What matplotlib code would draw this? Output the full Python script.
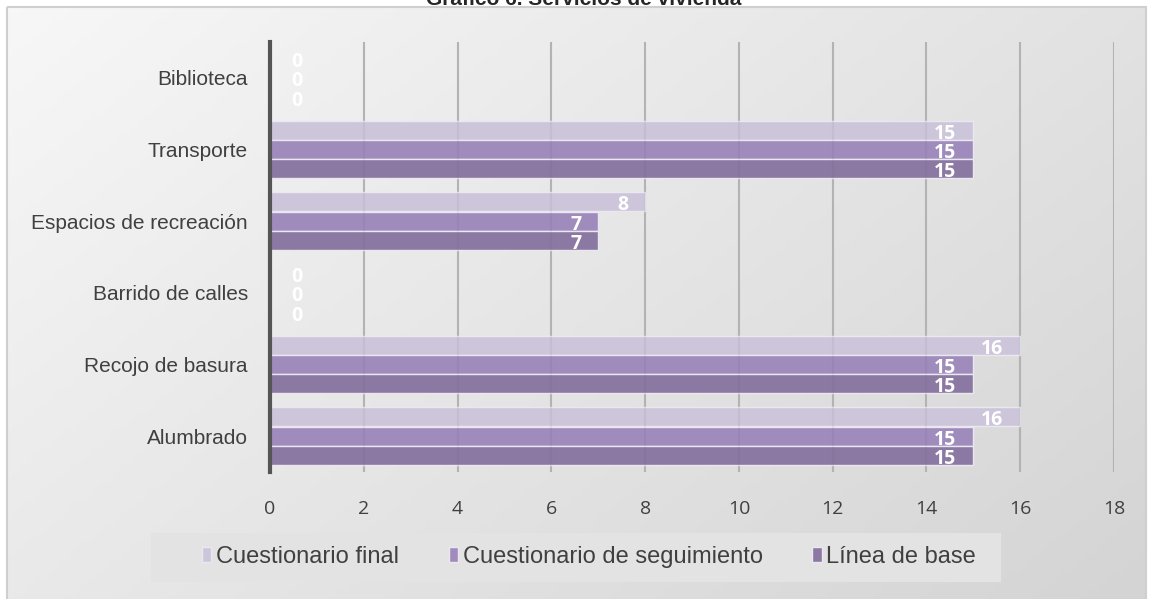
import numpy as np
import matplotlib
matplotlib.use('Agg')
import matplotlib.pyplot as plt
from matplotlib.patches import Rectangle, Patch

categorias = ['Alumbrado', 'Recojo de basura', 'Barrido de calles',
              'Espacios de recreación', 'Transporte', 'Biblioteca']
final = [16, 16, 0, 8, 15, 0]
seguimiento = [15, 15, 0, 7, 15, 0]
base = [15, 15, 0, 7, 15, 0]
series = ['Cuestionario final', 'Cuestionario de seguimiento', 'Línea de base']
colores = ['#cdc6da', '#a08bbd', '#8c79a3']

fig = plt.figure(figsize=(11.53, 5.99), dpi=100)

# panel background with a soft gradient
bg = fig.add_axes([0, 0, 1, 1], zorder=-10)
bg.set_xlim(0, 1153)
bg.set_ylim(599, 0)
bg.axis('off')
xx, yy = np.meshgrid(np.linspace(0, 1, 200), np.linspace(0, 1, 100))
grad = 0.6 * xx + 0.4 * yy
bg.imshow(grad, cmap=matplotlib.colors.LinearSegmentedColormap.from_list('g', ['#f7f7f7', '#d4d4d4']),
          extent=[7, 1146, 602, 7], aspect='auto', zorder=0)
bg.add_patch(Rectangle((7, 7), 1139, 600, fill=False, ec='#cfcfcf', lw=1.5, zorder=1))
bg.add_patch(Rectangle((151, 533), 850, 49, fc='#e3e3e3', ec='none', zorder=1))

# title is clipped by the top edge, as in the source image
fig.text(584 / 1153, 1 - 5 / 599, 'Gráfico 6. Servicios de vivienda', ha='center', va='baseline',
         fontsize=15, fontweight='bold', family='Liberation Sans', color='#262626')

ax = fig.add_axes([270 / 1153, 1 - 472 / 599, 844 / 1153, 430 / 599])
ax.patch.set_alpha(0)

y = np.arange(len(categorias))
h = 0.265
offs = [0.27, 0.0, -0.27]
for vals, off, c, name in zip([final, seguimiento, base], offs, colores, series):
    ax.barh(y + off, vals, height=h, color=c, edgecolor='#ebe7f0', linewidth=1, label=name, zorder=3)
    for yi, v in zip(y + off, vals):
        if v == 0:
            ax.annotate(str(v), (0, yi - 0.05), xytext=(21, 0), textcoords='offset pixels',
                        ha='left', va='center', color='white', fontsize=14, fontweight='bold',
                        family='Open Sans', zorder=4)
        else:
            ax.annotate(str(v), (v, yi - 0.05), xytext=(-17, 0), textcoords='offset pixels',
                        ha='right', va='center', color='white', fontsize=14, fontweight='bold',
                        family='Open Sans', zorder=4)

ax.set_xlim(0, 18)
ax.set_ylim(-0.5, 5.5)
ax.set_xticks(range(0, 19, 2))
ax.set_yticks(y)
ax.set_yticklabels(categorias, family='Liberation Sans', fontsize=15, color='#404040')
for t in ax.get_xticklabels():
    t.set_family('Open Sans')
    t.set_fontsize(14)
    t.set_color('#404040')
ax.tick_params(axis='x', length=0, pad=20)
ax.tick_params(axis='y', length=0, pad=16)
ax.grid(axis='x', color='#bcbcbc', lw=1.5, zorder=1)
# faint gridlines showing through the bars
ax.vlines(range(2, 19, 2), -0.5, 5.5, color='#555555', lw=1.5, alpha=0.08, zorder=3.5)
for s in ['top', 'right', 'bottom']:
    ax.spines[s].set_visible(False)
ax.spines['left'].set_color('#555555')
ax.spines['left'].set_linewidth(3)
ax.spines['left'].set_zorder(5)

handles = [Patch(facecolor=c, edgecolor='#ebe7f0') for c in colores]
fig.legend(handles, series, loc='center', bbox_to_anchor=(589 / 1153, 1 - 557 / 599), ncol=3,
           frameon=False, prop={'family': 'Liberation Sans', 'size': 17},
           handlelength=0.4, handleheight=0.6, handletextpad=0.2, columnspacing=2.1,
           labelcolor='#404040')

plt.savefig('out.png', dpi=100)
